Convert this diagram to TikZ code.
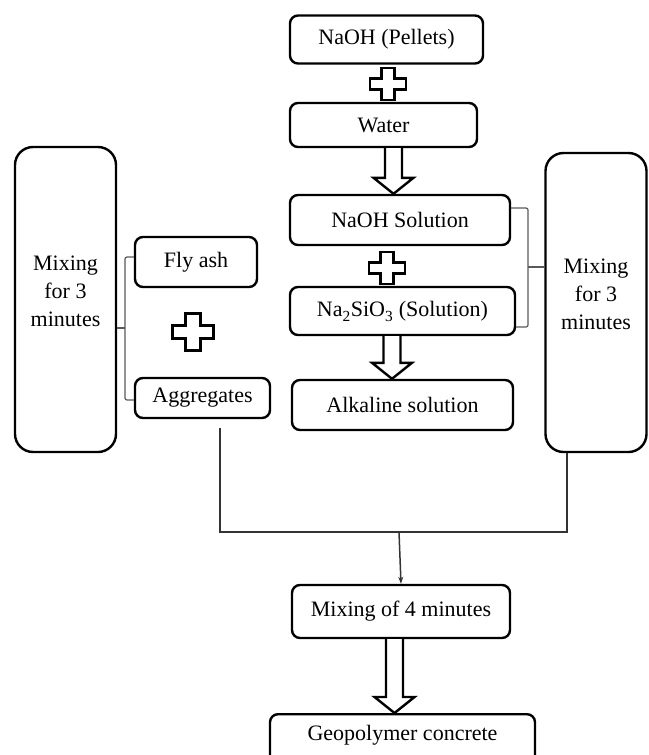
\documentclass[tikz,border=0pt]{standalone}
\usepackage{fontspec}
\setmainfont{Liberation Serif}
\usetikzlibrary{calc,arrows.meta}
\newcommand\fsz{\fontsize{22}{28}\selectfont}
\tikzset{
  box/.style={draw, line width=2.4pt, rounded corners=8pt, font=\fsz, inner sep=0pt, align=center},
  mixbox/.style={box, rounded corners=18pt, text depth=16pt},
  bracel/.style={draw=black!65, line width=1.2pt, rounded corners=2pt},
  conn/.style={draw=black!80, line width=1.5pt},
  blockarr/.style={draw, line width=2.4pt, fill=white, line join=miter},
  pics/plussign/.style={code={
    \draw[line width=2.6pt, fill=white, line join=miter]
      (-6.5,16) -- (6.5,16) -- (6.5,5.5) -- (18,5.5) -- (18,-5.5) -- (6.5,-5.5) -- (6.5,-16)
      -- (-6.5,-16) -- (-6.5,-5.5) -- (-18,-5.5) -- (-18,5.5) -- (-6.5,5.5) -- cycle;
  }}
}
\newcommand\barrow[3]{%
  \draw[blockarr] let \p1=(#1.south), \p2=(#2.north) in
    (#3-8.5,\y1) -- (#3-8.5,\y2+16pt) -- (#3-20,\y2+16pt) -- (#3,\y2)
    -- (#3+20,\y2+16pt) -- (#3+8.5,\y2+16pt) -- (#3+8.5,\y1);
}
\begin{document}
\begin{tikzpicture}[x=1pt,y=1pt]
\clip (0,0) rectangle (648,-755);
\useasboundingbox (0,0) rectangle (648,-755);

% central column
\node[box, minimum width=193, minimum height=48] (pellets) at (386.5,-39.5) {NaOH (Pellets)};
\node[box, minimum width=187, minimum height=44] (water) at (383.5,-125) {Water};
\node[box, minimum width=220, minimum height=50] (naohsol) at (400,-220) {NaOH Solution};
\node[box, minimum width=225, minimum height=48] (silicate) at (402.5,-311) {Na\textsubscript{\raisebox{-2pt}{2}}SiO\textsubscript{\raisebox{-2pt}{3}} (Solution)};
\node[box, minimum width=221, minimum height=50] (alkaline) at (402.5,-405) {Alkaline solution};

% left column
\node[box, minimum width=122, minimum height=50] (flyash) at (196,-262) {Fly ash};
\node[box, minimum width=135, minimum height=40] (aggr) at (202.5,-398) {Aggregates};
\node[mixbox, minimum width=101, minimum height=305] (mixL) at (65.5,-299.5) {Mixing\\for 3\\minutes};

% right mixing box
\node[mixbox, minimum width=101, minimum height=299] (mixR) at (596,-302.5) {Mixing\\for 3\\minutes};

% bottom
\node[box, minimum width=218, minimum height=53] (mix4) at (401,-611.5) {Mixing of 4 minutes};
\node[box, anchor=north, minimum width=265, inner ysep=5pt, text height=21pt, text depth=45pt] (geo) at (402.5,-713) {Geopolymer concrete};

% plus signs
\pic at (388,-84) {plussign};
\pic at (387,-268) {plussign};
\pic[scale=1.15] at (193,-332) {plussign};

% block arrows
\barrow{water}{naohsol}{393.5}
\barrow{silicate}{alkaline}{392}
\barrow{mix4}{geo}{394.5}

% braces
\draw[bracel] ([yshift=5pt]flyash.west) -- (125,-257) -- (125,-400) -- ([yshift=-2pt]aggr.west);
\draw[bracel] (mixL.east |- 0,-328) -- (125,-328);
\draw[bracel] ([yshift=12pt]naohsol.east) -- (528,-208) -- (528,-327) -- ([yshift=-16pt]silicate.east);
\draw[bracel] (mixR.west |- 0,-267) -- (528,-267);

% collecting connector
\coordinate (j) at (399,-532);
\draw[conn] ([xshift=17.5pt,yshift=-9pt]aggr.south) |- (j) -| ([xshift=-29pt]mixR.south);
\draw[conn,-{Stealth[length=7pt,width=5pt]}] (j) -- (mix4.north);
\end{tikzpicture}
\end{document}
